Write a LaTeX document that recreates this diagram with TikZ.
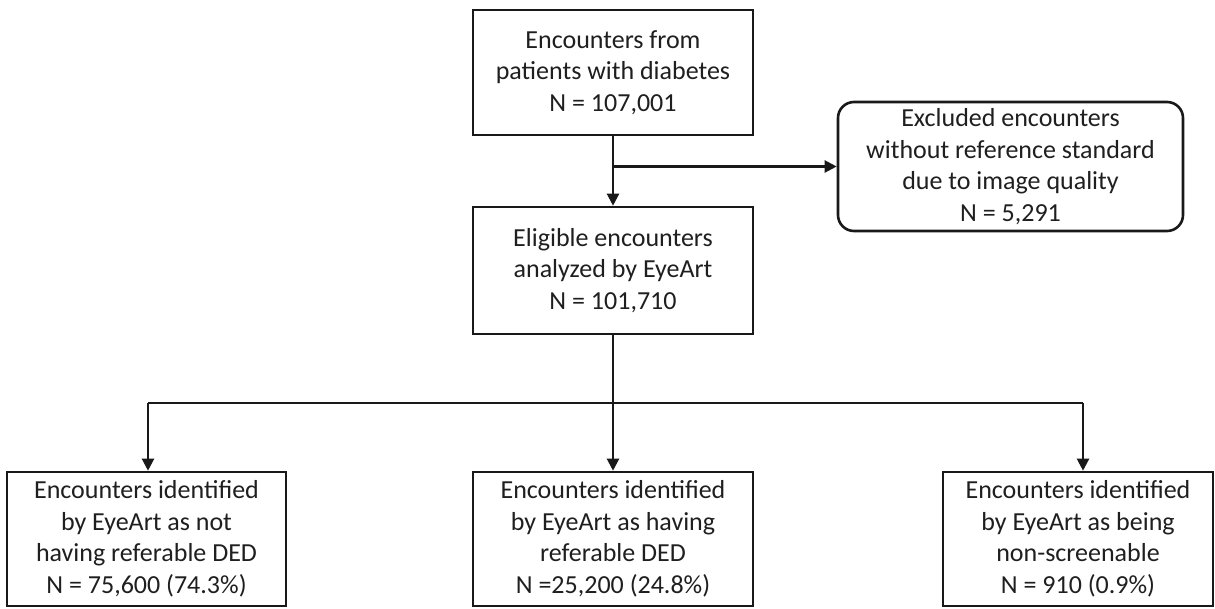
\documentclass[tikz,border=0pt]{standalone}
\usepackage{fontspec}
\setmainfont{Carlito}
\usetikzlibrary{arrows.meta}
\begin{document}
\begin{tikzpicture}[x=1pt,y=-1pt,
  box/.style={draw=black!90, line width=2.6pt, fill=white, align=center, inner sep=0pt,
    font=\fontsize{26}{31.5}\selectfont, text=black!88},
  conn/.style={draw=black!90, line width=2.2pt},
  arr/.style={conn, -{Triangle[width=12pt,length=12pt]}}]
\useasboundingbox (0,0) rectangle (1215,608);
\node[box, minimum width=280, minimum height=125] (top) at (613,72.5)
  {Encounters from\\patients with diabetes\\N = 107,001};
\node[box, minimum width=345, minimum height=129, rounded corners=16pt] (excl) at (1010.5,166.5)
  {Excluded encounters\\without reference standard\\due to image quality\\N = 5,291};
\node[box, minimum width=280, minimum height=127] (mid) at (613,270.5)
  {Eligible encounters\\analyzed by EyeArt\\N = 101,710};
\node[box, minimum width=279, minimum height=134] (bl) at (146.5,539)
  {Encounters identified\\by EyeArt as not\\having referable DED\\N = 75,600 (74.3\%)};
\node[box, minimum width=280, minimum height=134] (bm) at (613,539)
  {Encounters identified\\by EyeArt as having\\referable DED\\N =25,200 (24.8\%)};
\node[box, minimum width=270, minimum height=134] (br) at (1078,539)
  {Encounters identified\\by EyeArt as being\\non-screenable\\N = 910 (0.9\%)};
\coordinate (j1) at (top.south |- excl.west);
\draw[conn] (top.south) -- (j1);
\draw[arr] (j1) -- (mid.north);
\draw[arr] (j1) -- (excl.west);
\coordinate (j2) at (613,403);
\coordinate (lt) at (148,403);
\coordinate (rt) at (1083,403);
\draw[conn] (mid.south) -- (j2);
\draw[conn] (lt) -- (rt);
\draw[arr] (j2) -- (bm.north);
\draw[arr] (lt) -- (lt |- bl.north);
\draw[arr] (rt) -- (rt |- br.north);
\end{tikzpicture}
\end{document}
